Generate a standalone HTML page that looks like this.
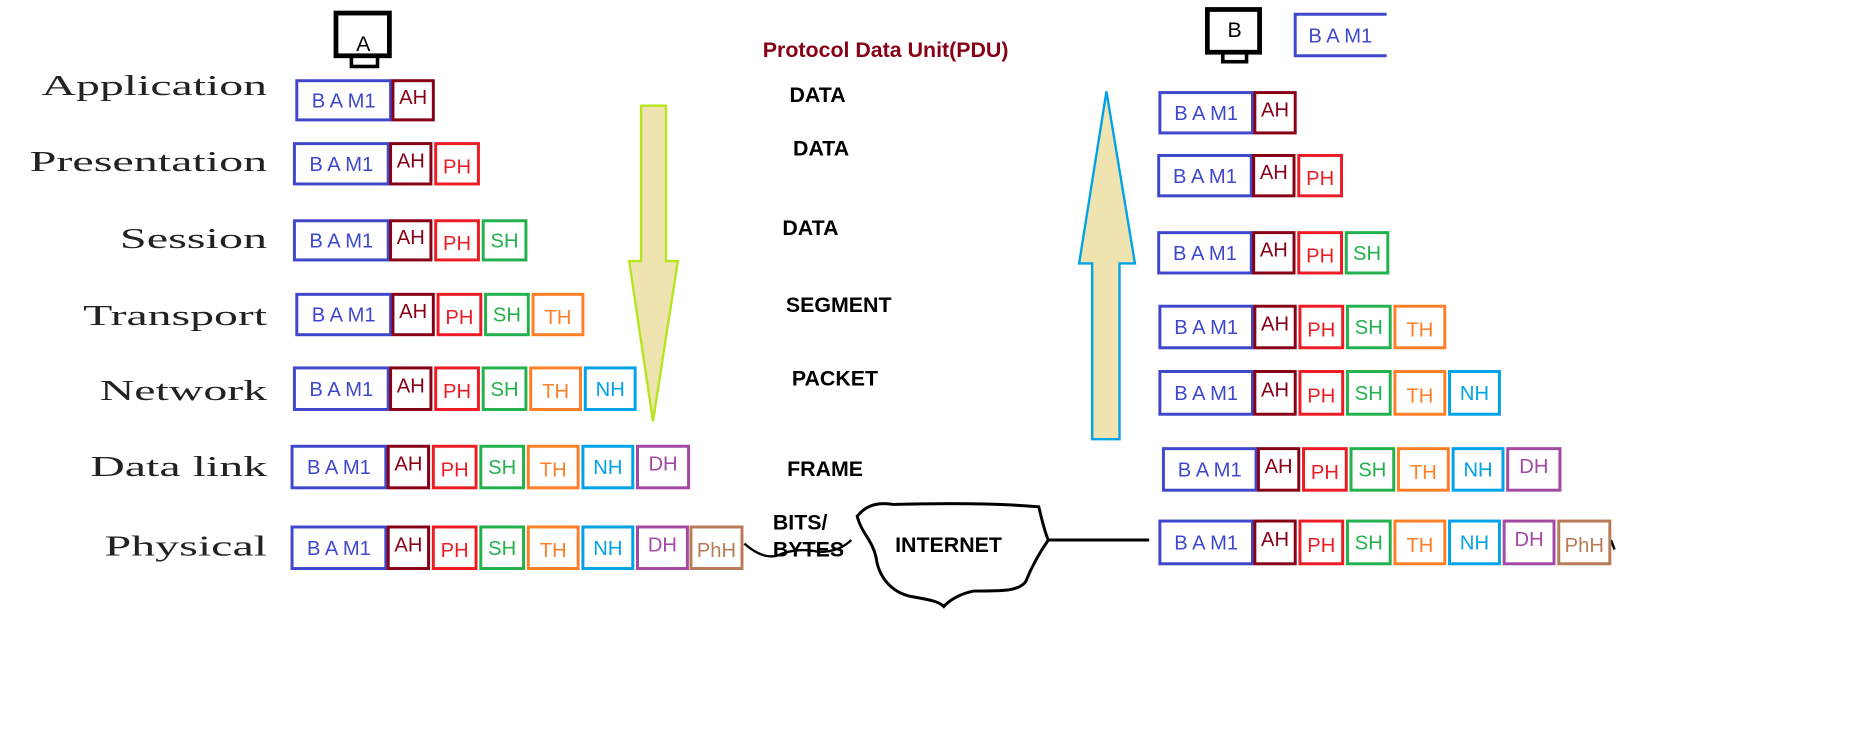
<!DOCTYPE html>
<html><head><meta charset="utf-8"><style>
html,body{margin:0;padding:0;background:#fff;width:1852px;height:743px;overflow:hidden}
svg{display:block}
.l{font-family:"Liberation Serif",serif;font-size:24px;fill:#222;text-anchor:end}
.b{font-family:"Liberation Sans",sans-serif;font-size:17px;text-anchor:middle}
.m{font-family:"Liberation Sans",sans-serif;font-size:18px;font-weight:bold;fill:#000}
</style></head><body>
<svg width="1852" height="743" viewBox="0 0 1560 626" preserveAspectRatio="none" xmlns="http://www.w3.org/2000/svg">
<!-- Labels -->
<text class="l" x="225" y="80" textLength="190" lengthAdjust="spacingAndGlyphs">Application</text>
<text class="l" x="225" y="144" textLength="200" lengthAdjust="spacingAndGlyphs">Presentation</text>
<text class="l" x="225" y="209" textLength="124" lengthAdjust="spacingAndGlyphs">Session</text>
<text class="l" x="225" y="274" textLength="155" lengthAdjust="spacingAndGlyphs">Transport</text>
<text class="l" x="225" y="337" textLength="141" lengthAdjust="spacingAndGlyphs">Network</text>
<text class="l" x="225" y="401" textLength="149" lengthAdjust="spacingAndGlyphs">Data link</text>
<text class="l" x="225" y="468" textLength="137" lengthAdjust="spacingAndGlyphs">Physical</text>

<!-- monitors -->
<rect x="283" y="11" width="45" height="36" fill="none" stroke="#000" stroke-width="4"/>
<rect x="296" y="47" width="22" height="9" fill="none" stroke="#000" stroke-width="3"/>
<text x="306" y="43" font-family="Liberation Sans,sans-serif" font-size="18" text-anchor="middle">A</text>
<rect x="1017" y="8" width="44" height="36" fill="none" stroke="#000" stroke-width="4"/>
<rect x="1030" y="44" width="20" height="8" fill="none" stroke="#000" stroke-width="3"/>
<text x="1040" y="31" font-family="Liberation Sans,sans-serif" font-size="18" text-anchor="middle">B</text>

<!-- top-right BAM1 -->
<path d="M1168 12 H1091 V47 H1168" fill="none" stroke="#3f48cc" stroke-width="2.5"/>
<text class="b" x="1129" y="36" fill="#3f48cc">B A M1</text>

<text x="746" y="48" font-family="Liberation Sans,sans-serif" font-size="18" font-weight="bold" fill="#880015" text-anchor="middle">Protocol Data Unit(PDU)</text>
<text class="m" x="665" y="86">DATA</text>
<text class="m" x="668" y="131">DATA</text>
<text class="m" x="659" y="198">DATA</text>
<text class="m" x="662" y="263">SEGMENT</text>
<text class="m" x="667" y="325">PACKET</text>
<text class="m" x="663" y="401">FRAME</text>
<text class="m" x="651" y="446">BITS/</text>
<text class="m" x="651" y="469">BYTES</text>
<text class="m" x="754" y="465">INTERNET</text>

<!-- arrows -->
<path d="M540 89 H561 V220 H571 L550 355 L530 220 H540 Z" fill="#efe4b0" stroke="#b5e61d" stroke-width="2"/>
<path d="M932 77 L956 222 H943 V370 H920 V222 H909 Z" fill="#efe4b0" stroke="#00a2e8" stroke-width="2"/>

<!-- cloud -->
<path d="M722 435 C730 425 740 423 752 425 C790 424 840 424 875 427 C878 440 880 448 883 455 C876 465 870 475 864 490 C858 498 846 498 820 498 C810 500 800 505 795 511 C790 506 780 505 770 503 C750 500 740 485 738 470 C735 455 726 450 722 435 Z" fill="none" stroke="#000" stroke-width="2.5"/>
<path d="M883 455 H968" stroke="#000" stroke-width="2.5"/>
<path d="M627 458 C635 465 645 471 655 468 C668 462 680 463 690 465 C700 465 710 462 717 455" fill="none" stroke="#000" stroke-width="2"/>
<path d="M1357 455 l3 8" stroke="#000" stroke-width="2"/>

<g id="rows"></g>
</svg>
<script>
const C={B:'#3f48cc',AH:'#880015',PH:'#ed1c24',SH:'#22b14c',TH:'#ff7f27',NH:'#00a2e8',DH:'#a349a4',PhH:'#b97a57'};
const rows=[
[67,102,[['B',249,330],['AH',330,366]]],
[120,156,[['B',247,328],['AH',328,364],['PH',366,404]]],
[185,220,[['B',247,328],['AH',328,364],['PH',366,404],['SH',406,444]]],
[247,283,[['B',249,330],['AH',330,366],['PH',368,406],['SH',408,446],['TH',448,492]]],
[309,346,[['B',247,328],['AH',328,364],['PH',366,404],['SH',406,444],['TH',446,490],['NH',492,536]]],
[375,412,[['B',245,326],['AH',326,362],['PH',364,402],['SH',404,442],['TH',444,488],['NH',490,534],['DH',536,581]]],
[443,480,[['B',245,326],['AH',326,362],['PH',364,402],['SH',404,442],['TH',444,488],['NH',490,534],['DH',536,580],['PhH',581,626]]],
[77,113,[['B',976,1056],['AH',1056,1092]]],
[130,166,[['B',975,1055],['AH',1055,1091],['PH',1093,1131]]],
[195,231,[['B',975,1055],['AH',1055,1091],['PH',1093,1131],['SH',1133,1170]]],
[257,294,[['B',976,1056],['AH',1056,1092],['PH',1094,1132],['SH',1134,1172],['TH',1174,1218]]],
[312,350,[['B',976,1056],['AH',1056,1092],['PH',1094,1132],['SH',1134,1172],['TH',1174,1218],['NH',1220,1264]]],
[377,414,[['B',979,1059],['AH',1059,1095],['PH',1097,1135],['SH',1137,1175],['TH',1177,1221],['NH',1223,1267],['DH',1269,1315]]],
[438,476,[['B',976,1056],['AH',1056,1092],['PH',1094,1132],['SH',1134,1172],['TH',1174,1218],['NH',1220,1264],['DH',1266,1310],['PhH',1312,1357]]]
];
let s='';
for(const [y1,y2,bs] of rows){for(const [k,x1,x2] of bs){const c=C[k];const t=k=='B'?'B A M1':k;
const up=(k=='AH'||k=='DH')?-3:(k=='PH'||k=='TH'||k=='PhH'?2:0);
s+=`<rect x="${x1+1}" y="${y1+1}" width="${x2-x1-2}" height="${y2-y1-2}" fill="none" stroke="${c}" stroke-width="2.5"/>`;
s+=`<text class="b" x="${(x1+x2)/2}" y="${(y1+y2)/2+6+up}" fill="${c}" ${k=='PhH'?'font-size="15"':''}>${t}</text>`;}}
document.getElementById('rows').innerHTML=s;
</script>
</body></html>
